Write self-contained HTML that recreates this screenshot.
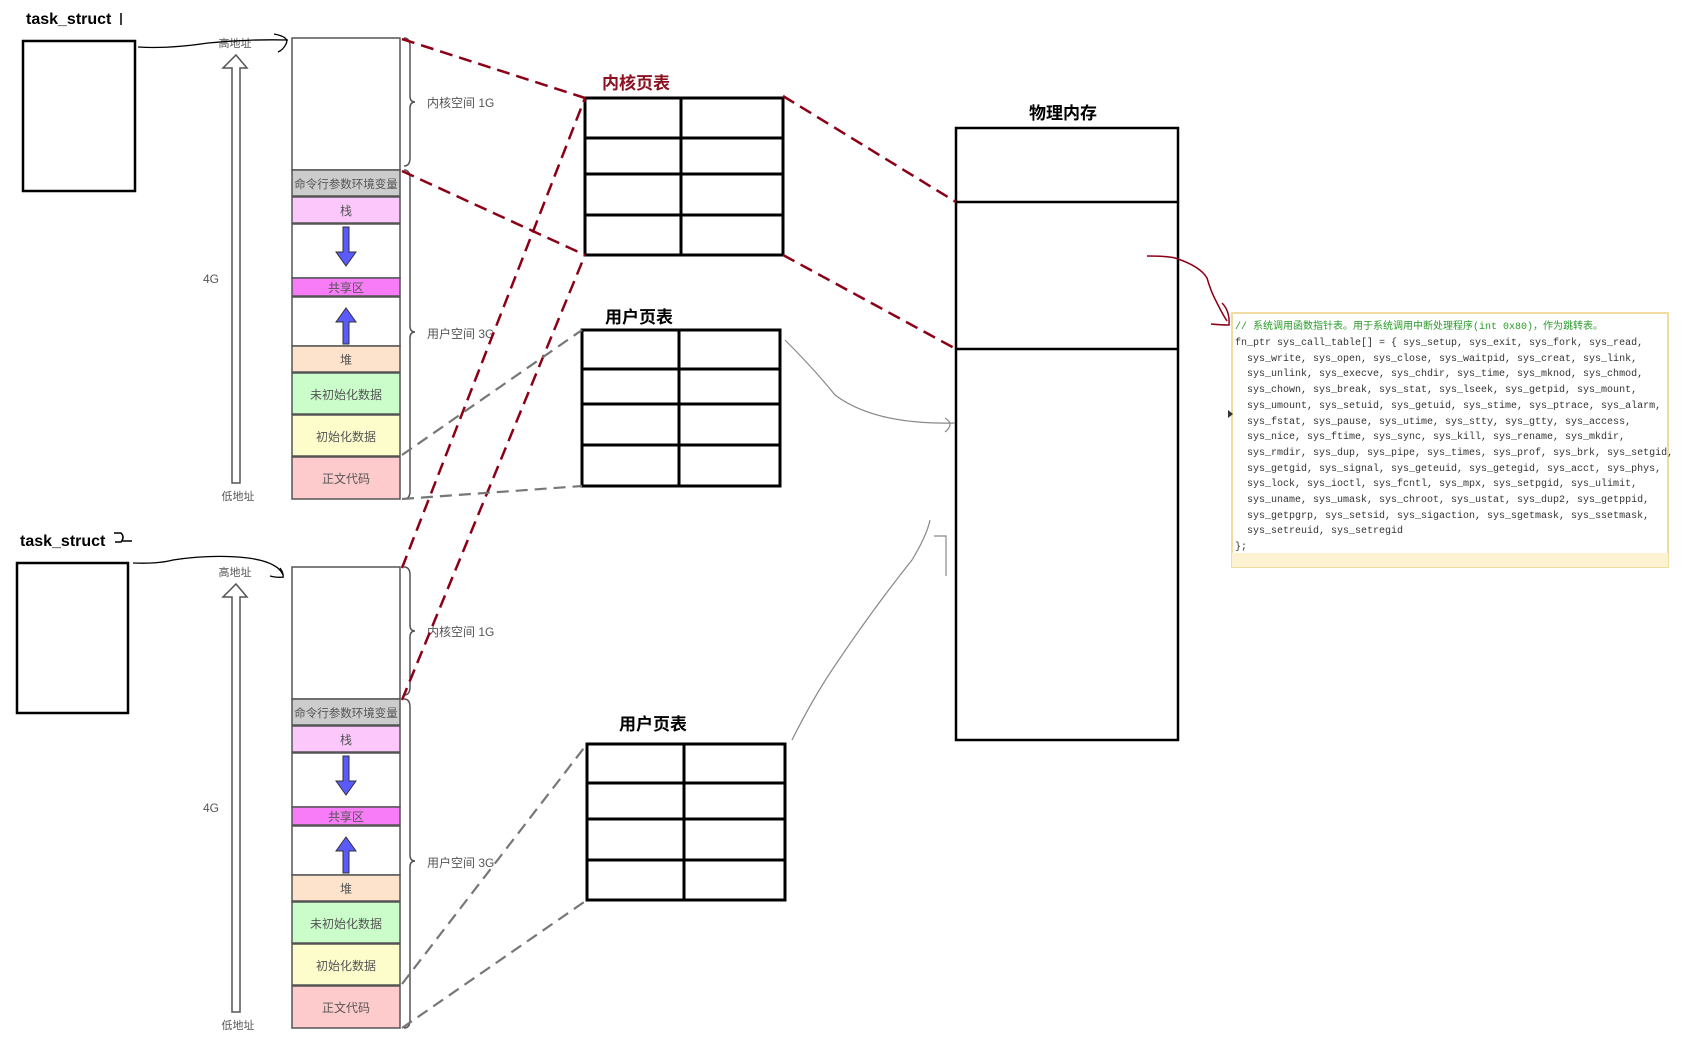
<!DOCTYPE html>
<html><head><meta charset="utf-8"><style>
html,body{margin:0;padding:0;background:#fff;}
svg{display:block;}
.t{font-family:"Liberation Sans","Noto Sans CJK SC",sans-serif;}
.lbl{font-family:"Liberation Sans","Noto Sans CJK SC",sans-serif;font-size:12px;fill:#555;}
.code{font-family:"Liberation Mono","Noto Sans CJK SC",monospace;font-size:10px;fill:#333;white-space:pre;}
</style></head><body>
<svg width="1687" height="1044" viewBox="0 0 1687 1044" xmlns="http://www.w3.org/2000/svg">
<defs>
<g id="col">
  <rect x="292" y="38" width="108" height="132" fill="#fff" stroke="#555" stroke-width="1.5"/>
  <rect x="292" y="170" width="108" height="26" fill="#ccc" stroke="#555" stroke-width="1.5"/>
  <rect x="292" y="197" width="108" height="26" fill="#fcc8fc" stroke="#555" stroke-width="1.5"/>
  <rect x="292" y="224" width="108" height="54" fill="#fff" stroke="#555" stroke-width="1.5"/>
  <rect x="292" y="278" width="108" height="18" fill="#f87cf8" stroke="#555" stroke-width="1.5"/>
  <rect x="292" y="297" width="108" height="49" fill="#fff" stroke="#555" stroke-width="1.5"/>
  <rect x="292" y="346" width="108" height="26" fill="#fde3cb" stroke="#555" stroke-width="1.5"/>
  <rect x="292" y="373" width="108" height="41" fill="#cbfdcb" stroke="#555" stroke-width="1.5"/>
  <rect x="292" y="415" width="108" height="41" fill="#fdfdcb" stroke="#555" stroke-width="1.5"/>
  <rect x="292" y="457" width="108" height="42" fill="#fdcbcb" stroke="#555" stroke-width="1.5"/>
  <text x="346" y="188" text-anchor="middle" class="lbl" style="font-size:11.5px">命令行参数环境变量</text>
  <text x="346" y="215" text-anchor="middle" class="lbl">栈</text>
  <text x="346" y="292" text-anchor="middle" class="lbl">共享区</text>
  <text x="346" y="364" text-anchor="middle" class="lbl">堆</text>
  <text x="346" y="399" text-anchor="middle" class="lbl">未初始化数据</text>
  <text x="346" y="441" text-anchor="middle" class="lbl">初始化数据</text>
  <text x="346" y="483" text-anchor="middle" class="lbl">正文代码</text>
  <polygon points="343,227 349,227 349,252 356,252 346,266 336,252 343,252" fill="#5a5aff" stroke="#333" stroke-width="1"/>
  <polygon points="343,344 349,344 349,322 356,322 346,308 336,322 343,322" fill="#5a5aff" stroke="#333" stroke-width="1"/>
  <path d="M404,38 q6,0 6,8 v50 q0,6 5,6 q-5,0 -5,6 v50 q0,8 -6,8" fill="none" stroke="#555" stroke-width="1.5"/>
  <path d="M404,170 q6,0 6,8 v148 q0,6 5,6 q-5,0 -5,6 v153 q0,8 -6,8" fill="none" stroke="#555" stroke-width="1.5"/>
  <text x="427" y="107" class="lbl">内核空间 1G</text>
  <text x="427" y="338" class="lbl">用户空间 3G</text>
  <polygon points="232,483 240,483 240,68 247,68 236,55 223,68 232,68" fill="#fff" stroke="#555" stroke-width="1.5"/>
  <text x="235" y="47" text-anchor="middle" class="lbl" style="font-size:11px">高地址</text>
  <text x="238" y="500" text-anchor="middle" class="lbl" style="font-size:11px">低地址</text>
  <text x="203" y="283" class="lbl">4G</text>
</g>
</defs>

<text x="26" y="24" class="t" style="font-size:16px;font-weight:bold">task_struct</text>
<path d="M121,13 v12" stroke="#000" stroke-width="1.5"/>
<rect x="23" y="41" width="112" height="150" fill="#fff" stroke="#000" stroke-width="2.5"/>
<use href="#col"/>
<path d="M138,47 q30,2 70,-4 q40,-4 80,-3" fill="none" stroke="#000" stroke-width="1.3"/>
<path d="M274,34 q16,3 12,10 q-3,6 -8,8" fill="none" stroke="#000" stroke-width="1.3"/>

<text x="20" y="546" class="t" style="font-size:16px;font-weight:bold">task_struct</text>
<path d="M114,533 h7 q4,4 0,9 h-6 M122,541 h10" fill="none" stroke="#000" stroke-width="1.5"/>
<rect x="17" y="563" width="111" height="150" fill="#fff" stroke="#000" stroke-width="2.5"/>
<g transform="translate(0,529)"><use href="#col"/></g>
<path d="M133,563 q25,1 40,-3 q40,-6 75,-2 q30,4 35,17" fill="none" stroke="#000" stroke-width="1.3"/>
<path d="M270,576 q8,2 13,1 M280,568 q4,5 3,10" fill="none" stroke="#000" stroke-width="1.3"/>

<g fill="none" stroke="#000" stroke-width="3">
  <rect x="585" y="98" width="198" height="157"/>
  <path d="M585,138 H783 M585,174 H783 M585,215 H783 M681,98 V255"/>
  <rect x="582" y="330" width="198" height="156"/>
  <path d="M582,369 H780 M582,404 H780 M582,445 H780 M679,330 V486"/>
  <rect x="587" y="744" width="198" height="156"/>
  <path d="M587,783 H785 M587,819 H785 M587,860 H785 M684,744 V900"/>
  <rect x="956" y="128" width="222" height="612" stroke-width="2.5"/>
  <path d="M956,202 H1178 M956,349 H1178" stroke-width="2.5"/>
</g>
<text x="602" y="89" class="t" style="font-size:17px;font-weight:bold;fill:#8b1020">内核页表</text>
<text x="605" y="323" class="t" style="font-size:17px;font-weight:bold">用户页表</text>
<text x="619" y="730" class="t" style="font-size:17px;font-weight:bold">用户页表</text>
<text x="1029" y="119" class="t" style="font-size:17px;font-weight:bold">物理内存</text>

<g stroke="#8b0016" stroke-width="2.5" fill="none" stroke-dasharray="13,7">
  <path d="M402,39 L585,98"/>
  <path d="M402,171 L585,255"/>
  <path d="M402,568 L585,98"/>
  <path d="M402,700 L585,255"/>
  <path d="M783,96 L956,202"/>
  <path d="M783,255 L956,349"/>
</g>
<g stroke="#777" stroke-width="2.2" fill="none" stroke-dasharray="12,7">
  <path d="M402,455 L582,330"/>
  <path d="M402,499 L582,486"/>
  <path d="M402,984 L587,744"/>
  <path d="M402,1028 L587,900"/>
</g>
<path d="M785,340 q30,30 50,55 q40,30 120,28 M945,418 q10,6 0,14" fill="none" stroke="#888" stroke-width="1.2"/>
<path d="M792,740 q20,-40 40,-70 q40,-60 80,-110 q15,-25 18,-40 M934,536 h12 v40" fill="none" stroke="#888" stroke-width="1.2"/>
<path d="M1147,256 q20,0 28,2 q25,8 32,20 q4,14 10,25 q6,12 10,18 M1222,303 q8,8 7,22 q-8,0 -18,-1" fill="none" stroke="#8b0016" stroke-width="1.5"/>

<rect x="1232" y="313" width="436" height="254" fill="#fff" stroke="#f0dca0" stroke-width="2"/>
<rect x="1232" y="553" width="436" height="14" fill="#fdf3d2"/>
<polygon points="1228,410 1233,414 1228,418" fill="#333"/>
<text x="1235" y="329" class="code" style="fill:#2a9a2a">// 系统调用函数指针表。用于系统调用中断处理程序(int 0x80)，作为跳转表。</text>
<text class="code">
<tspan x="1235" y="345">fn_ptr sys_call_table[] = { sys_setup, sys_exit, sys_fork, sys_read,</tspan>
<tspan x="1235" y="361">  sys_write, sys_open, sys_close, sys_waitpid, sys_creat, sys_link,</tspan>
<tspan x="1235" y="376">  sys_unlink, sys_execve, sys_chdir, sys_time, sys_mknod, sys_chmod,</tspan>
<tspan x="1235" y="392">  sys_chown, sys_break, sys_stat, sys_lseek, sys_getpid, sys_mount,</tspan>
<tspan x="1235" y="408">  sys_umount, sys_setuid, sys_getuid, sys_stime, sys_ptrace, sys_alarm,</tspan>
<tspan x="1235" y="424">  sys_fstat, sys_pause, sys_utime, sys_stty, sys_gtty, sys_access,</tspan>
<tspan x="1235" y="439">  sys_nice, sys_ftime, sys_sync, sys_kill, sys_rename, sys_mkdir,</tspan>
<tspan x="1235" y="455">  sys_rmdir, sys_dup, sys_pipe, sys_times, sys_prof, sys_brk, sys_setgid,</tspan>
<tspan x="1235" y="471">  sys_getgid, sys_signal, sys_geteuid, sys_getegid, sys_acct, sys_phys,</tspan>
<tspan x="1235" y="486">  sys_lock, sys_ioctl, sys_fcntl, sys_mpx, sys_setpgid, sys_ulimit,</tspan>
<tspan x="1235" y="502">  sys_uname, sys_umask, sys_chroot, sys_ustat, sys_dup2, sys_getppid,</tspan>
<tspan x="1235" y="518">  sys_getpgrp, sys_setsid, sys_sigaction, sys_sgetmask, sys_ssetmask,</tspan>
<tspan x="1235" y="533">  sys_setreuid, sys_setregid</tspan>
<tspan x="1235" y="549">};</tspan>
</text>
</svg>
</body></html>
